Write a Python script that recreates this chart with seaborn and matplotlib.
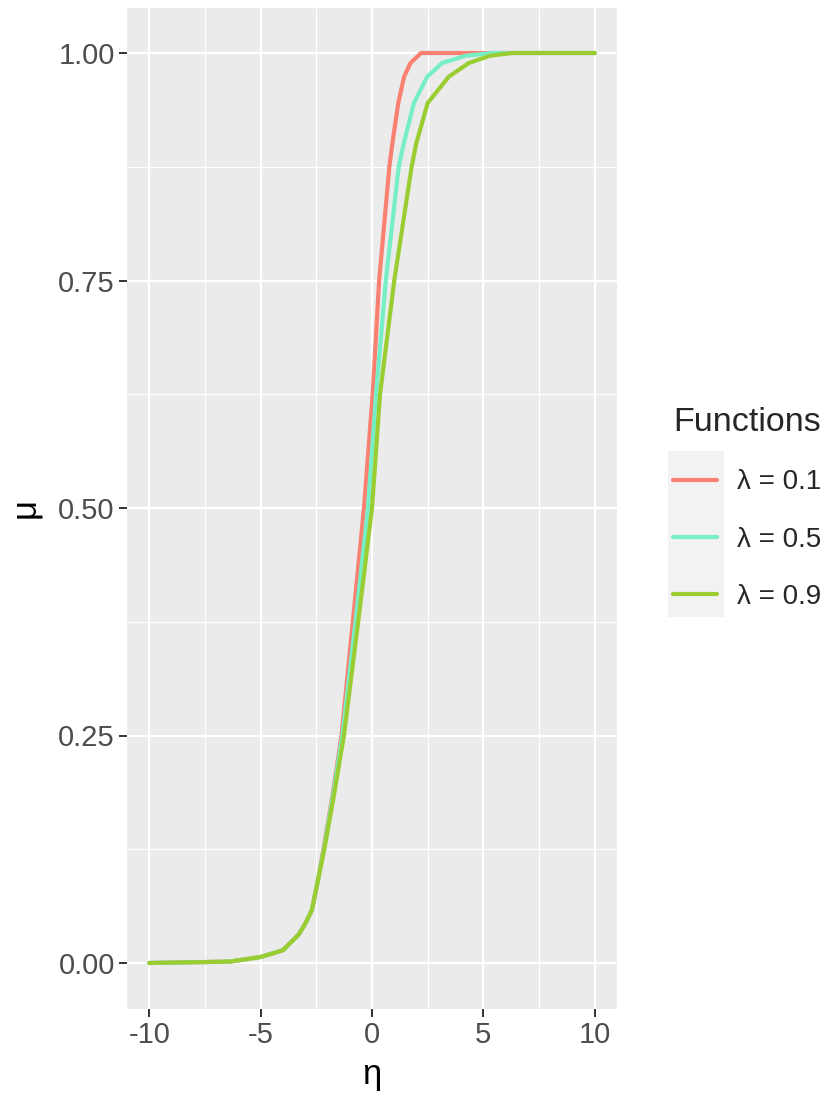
import numpy as np
import pandas as pd
import matplotlib
matplotlib.use("Agg")
import matplotlib.pyplot as plt
import seaborn as sns
from matplotlib.ticker import MultipleLocator
from matplotlib.patches import Rectangle
from matplotlib.lines import Line2D

# ---- data ----
labels = ["λ = 0.1", "λ = 0.5", "λ = 0.9"]
colors = ["#FA8072", "#76EEC6", "#9ACD32"]

x_l01 = [-10, -6.4, -5, -4, -3.3, -3.0, -2.7, -2.45, -2.18, -1.8, -1.37, -0.86, -0.62, -0.36,
         0.03, 0.32, 0.78, 0.91, 1.18, 1.44, 1.73, 2.2, 10]
y_l01 = [0, 0.0015, 0.0066, 0.014, 0.031, 0.043, 0.058, 0.088, 0.125, 0.18, 0.25, 0.375, 0.435, 0.5,
         0.625, 0.75, 0.875, 0.90, 0.945, 0.974, 0.989, 1.0, 1.0]

x_l05 = [-10, -6.4, -5, -4, -3.3, -3.0, -2.7, -2.45, -2.16, -1.78, -1.33, -0.74, -0.47, -0.18,
         0.18, 0.62, 1.2, 1.42, 1.88, 2.48, 3.15, 4.2, 5.4, 10]
y_l05 = [0, 0.0015, 0.0066, 0.014, 0.031, 0.043, 0.058, 0.088, 0.125, 0.18, 0.25, 0.375, 0.435, 0.5,
         0.625, 0.75, 0.875, 0.90, 0.945, 0.974, 0.989, 0.997, 1.0, 1.0]

x_l09 = [-10, -6.4, -5, -4, -3.3, -3.0, -2.7, -2.45, -2.14, -1.74, -1.26, -0.62, -0.32, 0.0,
         0.36, 1.0, 1.78, 1.98, 2.5, 3.45, 4.35, 5.3, 6.3, 10]
y_l09 = [0, 0.0015, 0.0066, 0.014, 0.031, 0.043, 0.058, 0.088, 0.125, 0.18, 0.25, 0.375, 0.435, 0.5,
         0.625, 0.75, 0.875, 0.90, 0.945, 0.974, 0.989, 0.997, 1.0, 1.0]

x_ticks = [-10, -5, 0, 5, 10]
y_ticks = [0.0, 0.25, 0.5, 0.75, 1.0]
y_ticklabels = ["0.00", "0.25", "0.50", "0.75", "1.00"]

frames = []
for lab, xs, ys in zip(labels, [x_l01, x_l05, x_l09], [y_l01, y_l05, y_l09]):
    frames.append(pd.DataFrame({"eta": xs, "mu": ys, "Functions": lab}))
df = pd.concat(frames, ignore_index=True)

# ---- style ----
sns.set_theme(style="darkgrid")
plt.rcParams["font.family"] = ["Liberation Sans", "DejaVu Sans"]

W, H = 827, 1093
fig = plt.figure(figsize=(W / 100, H / 100), dpi=100)
L, R, T, B = 127, 617, 7.5, 1008.5
ax = fig.add_axes([L / W, 1 - B / H, (R - L) / W, (B - T) / H])
ax.set_facecolor("#EBEBEB")

sns.lineplot(data=df, x="eta", y="mu", hue="Functions", hue_order=labels,
             palette=dict(zip(labels, colors)), estimator=None, sort=False,
             linewidth=3.0, ax=ax, legend=False)

ax.set_xlim(-11, 11)
ax.set_ylim(-0.05, 1.05)
ax.set_xticks(x_ticks)
ax.set_xticklabels([str(t) for t in x_ticks])
ax.set_yticks(y_ticks)
ax.set_yticklabels(y_ticklabels)
ax.xaxis.set_minor_locator(MultipleLocator(2.5))
ax.yaxis.set_minor_locator(MultipleLocator(0.125))
ax.grid(which="major", color="white", linewidth=1.6)
ax.grid(which="minor", color="white", linewidth=0.8)
ax.set_axisbelow(True)
for s in ax.spines.values():
    s.set_visible(False)
ax.tick_params(which="major", length=5.8, width=1.4, color="#333333",
               labelsize=21, labelcolor="#4D4D4D", pad=3)
ax.tick_params(which="minor", length=0)
ax.tick_params(axis="x", bottom=True)
ax.tick_params(axis="y", left=True)

ax.set_xlabel("η", fontsize=25, color="black", labelpad=7)
ax.set_ylabel("μ", fontsize=25, color="black", labelpad=12)

# ---- legend ----
handles = [Line2D([0], [0], color=c, lw=3.0) for c in colors]
fig.patches.append(Rectangle((668 / W, 1 - 617 / H), 56 / W, 166 / H,
                             transform=fig.transFigure, facecolor="#F2F2F2",
                             edgecolor="none", zorder=0))
leg = fig.legend(handles, labels, title="Functions", loc="upper left",
                 bbox_to_anchor=(673 / W, 1 - 407 / H), frameon=False,
                 fontsize=20, title_fontsize=24.5, handlelength=1.6,
                 handletextpad=0.72, labelspacing=1.13, borderpad=0,
                 borderaxespad=0, alignment="left")

fig.savefig("out.png", dpi=100)
